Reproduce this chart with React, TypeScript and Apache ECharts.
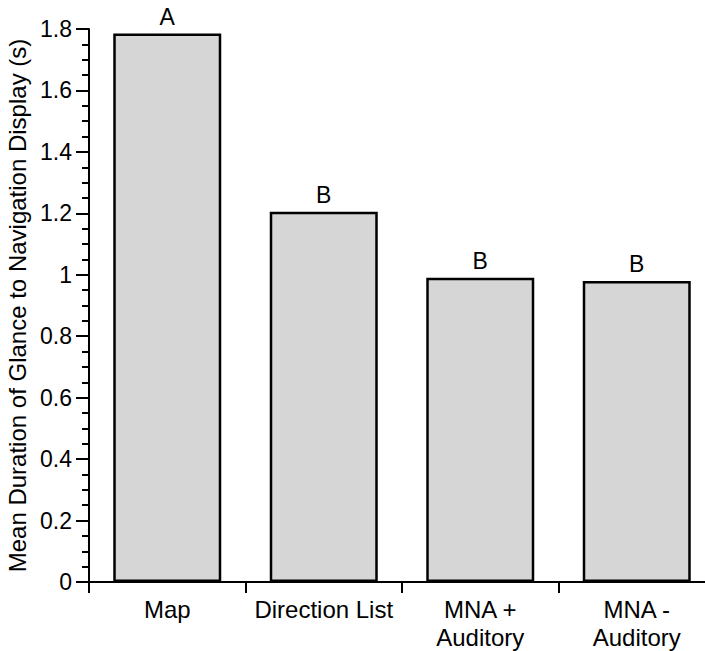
import React, { useEffect, useRef } from "react";
import * as echarts from "echarts";

const categories = ["Map", "Direction List", "MNA +\nAuditory", "MNA -\nAuditory"];
const meanGlance = [1.785, 1.205, 0.99, 0.98];
const groupLetters = ["A", "B", "B", "B"];
const yTicks = { min: 0, max: 1.8, interval: 0.2 };
const yTitle = "Mean Duration of Glance to Navigation Display (s)";

const FONT = "'Liberation Sans', Arial, Helvetica, sans-serif";

export default function App() {
  const ref = useRef<HTMLDivElement>(null);
  useEffect(() => {
    if (!ref.current) return;
    const chart = echarts.init(ref.current, undefined, { renderer: "svg" });
    chart.setOption({
      animation: false,
      backgroundColor: "#ffffff",
      grid: { left: 89, top: 29, width: 626, bottom: 69, outerBoundsMode: "none", containLabel: false },
      xAxis: {
        type: "category",
        data: categories,
        axisLine: { lineStyle: { color: "#000", width: 2 } },
        axisTick: { show: true, length: 11, lineStyle: { color: "#000", width: 2 } },
        axisLabel: {
          color: "#000",
          fontFamily: FONT,
          fontSize: 24,
          lineHeight: 28,
          margin: 13,
          interval: 0,
        },
      },
      yAxis: {
        type: "value",
        min: yTicks.min,
        max: yTicks.max,
        interval: yTicks.interval,
        name: yTitle,
        nameLocation: "middle",
        nameGap: 57,
        nameTextStyle: { color: "#000", fontFamily: FONT, fontSize: 24 },
        axisLine: { show: true, lineStyle: { color: "#000", width: 2 } },
        axisTick: { show: true, length: 13, lineStyle: { color: "#000", width: 2 } },
        minorTick: { show: true, splitNumber: 4, length: 7, lineStyle: { color: "#000", width: 2 } },
        splitLine: { show: false },
        axisLabel: { color: "#000", fontFamily: FONT, fontSize: 23, margin: 17 },
      },
      series: [
        {
          type: "bar",
          data: meanGlance.map((v, i) => ({
            value: v,
            label: { formatter: groupLetters[i] },
          })),
          barWidth: 108,
          itemStyle: {
            color: "#d6d6d6",
            borderColor: "#000",
            borderWidth: 2.5,
          },
          label: {
            show: true,
            position: "top",
            distance: 5,
            color: "#000",
            fontFamily: FONT,
            fontSize: 23,
          },
        },
      ],
    });
    return () => chart.dispose();
  }, []);
  return (
    <div
      ref={ref}
      style={{ position: "absolute", left: 0, top: 0, width: 705, height: 651 }}
    />
  );
}
